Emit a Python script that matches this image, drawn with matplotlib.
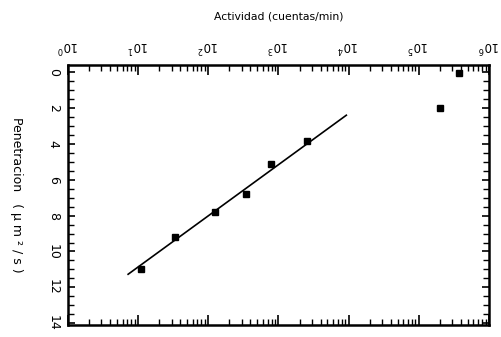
import numpy as np
import matplotlib
matplotlib.use('Agg')
import matplotlib.pyplot as plt
from matplotlib.ticker import LogLocator, MultipleLocator, NullFormatter

# data
actividad = [11, 34, 126, 347, 794, 2570, 2.0e5, 3.7e5]
penetracion = [10.99, 9.20, 7.81, 6.80, 5.13, 3.85, 2.01, 0.06]
fit_x = [7.2, 9300]
fit_y = [11.27, 2.40]
x_ticks = [1e0, 1e1, 1e2, 1e3, 1e4, 1e5, 1e6]
x_tick_labels = [r'$10^{0}$', r'$10^{1}$', r'$10^{2}$', r'$10^{3}$',
                 r'$10^{4}$', r'$10^{5}$', r'$10^{6}$']
y_ticks = [0, 2, 4, 6, 8, 10, 12, 14]

fig = plt.figure(figsize=(5.01, 3.37), dpi=100)
ax = fig.add_axes([0.1357, 0.0356, 0.840, 0.7715])

ax.plot(fit_x, fit_y, color='black', linewidth=1.2)
ax.plot(actividad, penetracion, 's', color='black', markersize=5)

ax.set_xscale('log')
ax.set_xlim(1, 1e6)
ax.set_ylim(14.1, -0.4)

ax.set_xticks(x_ticks)
ax.set_xticklabels(x_tick_labels, rotation=180, fontsize=8.5)
ax.xaxis.set_minor_locator(LogLocator(base=10, subs=np.arange(2, 10)))
ax.xaxis.set_minor_formatter(NullFormatter())
ax.xaxis.tick_top()
ax.xaxis.set_label_position('top')
ax.tick_params(axis='x', which='both', top=True, bottom=True, direction='in',
               labeltop=True, labelbottom=False)
ax.tick_params(axis='x', which='major', length=7, width=1.2, pad=8)
ax.tick_params(axis='x', which='minor', length=4, width=1.0)

ax.set_yticks(y_ticks)
ax.set_yticklabels([str(v) for v in y_ticks], rotation=270, fontsize=9,
                   va='center')
ax.yaxis.set_minor_locator(MultipleLocator(0.5))
ax.tick_params(axis='y', which='both', left=True, right=True, direction='in')
ax.tick_params(axis='y', which='major', length=5, width=1.2, pad=6)
ax.tick_params(axis='y', which='minor', length=4, width=1.0)

for s in ax.spines.values():
    s.set_linewidth(1.8)

ax.set_xlabel('Actividad (cuentas/min)', fontsize=7.8, labelpad=13)
ax.set_ylabel('Penetracion   ( μ m ² / s )', fontsize=9, rotation=270,
              labelpad=22, va='center')

plt.savefig('out.png', dpi=100)
